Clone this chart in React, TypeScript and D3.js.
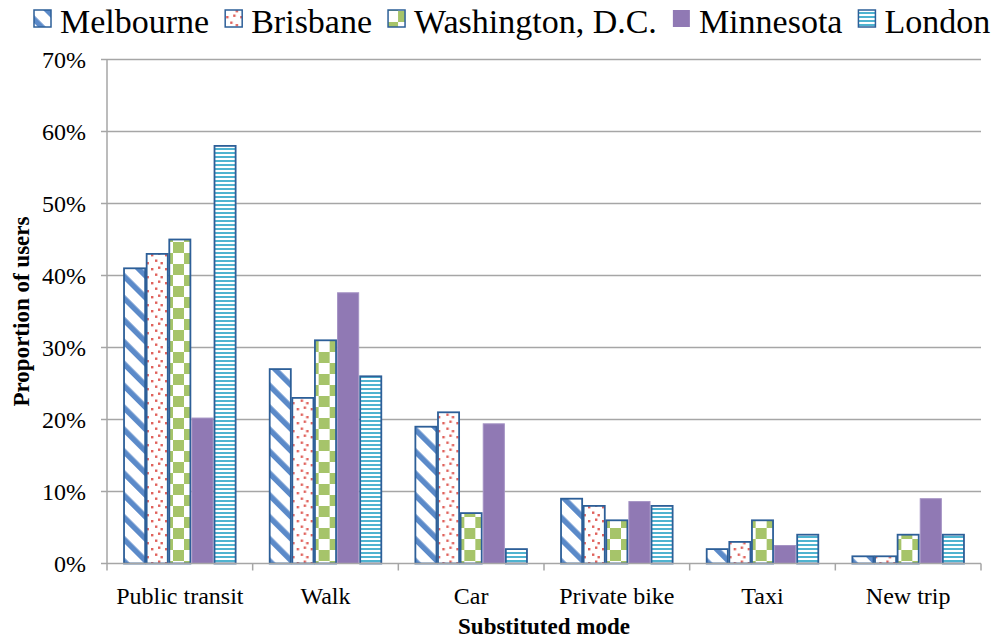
import React from "react";
import * as d3 from "d3";

const categories = ["Public transit", "Walk", "Car", "Private bike", "Taxi", "New trip"];
const seriesNames = ["Melbourne", "Brisbane", "Washington, D.C.", "Minnesota", "London"];

const melbourne = [41, 27, 19, 9, 2, 1];
const brisbane = [43, 23, 21, 8, 3, 1];
const washington = [45, 31, 7, 6, 6, 4];
const minnesota = [20.2, 37.6, 19.4, 8.6, 2.5, 9];
const london = [58, 26, 2, 8, 4, 4];

const seriesValues = [melbourne, brisbane, washington, minnesota, london];
const yTicks = [0, 10, 20, 30, 40, 50, 60, 70];

const patternIds = ["pMelb", "pBris", "pWash", "pMinn", "pLond"];
const borderColor = "#2d5f98";
const gridColor = "#a6a6a6";
const font = "'Liberation Serif', 'Times New Roman', serif";

const W = 1005;
const H = 640;
const plot = { left: 107, right: 981, top: 59.5, bottom: 563.5 };

function Patterns() {
  return (
    <defs>
      <pattern id="pMelb" patternUnits="userSpaceOnUse" width={15.5} height={15.5} patternTransform="rotate(-45)">
        <rect width={15.5} height={15.5} fill="#fff" />
        <rect x={0} width={5.5} height={15.5} fill="#5b8ac9" />
      </pattern>
      <pattern id="pBris" patternUnits="userSpaceOnUse" width={14} height={14}>
        <rect width={14} height={14} fill="#fff" />
        <rect x={2} y={2} width={2.4} height={2.4} fill="#e0625c" />
        <rect x={9} y={0.5} width={2.4} height={2.4} fill="#e0625c" />
        <rect x={6} y={7.5} width={2.4} height={2.4} fill="#e0625c" />
        <rect x={11.5} y={10} width={2.4} height={2.4} fill="#e0625c" />
      </pattern>
      <pattern id="pWash" patternUnits="userSpaceOnUse" width={22} height={22}>
        <rect width={22} height={22} fill="#fff" />
        <rect x={0} y={0} width={11} height={11} fill="#a6c46a" />
        <rect x={11} y={11} width={11} height={11} fill="#a6c46a" />
      </pattern>
      <pattern id="pMinn" patternUnits="userSpaceOnUse" width={4} height={4}>
        <rect width={4} height={4} fill="#9079b4" />
      </pattern>
      <pattern id="pLond" patternUnits="userSpaceOnUse" width={4} height={4}>
        <rect width={4} height={4} fill="#fff" />
        <rect y={0} width={4} height={2} fill="#4fb3d0" />
      </pattern>
    </defs>
  );
}

function Legend() {
  const ref = React.useRef<SVGGElement>(null);
  React.useEffect(() => {
    if (!ref.current) return;
    const g = d3.select(ref.current);
    let x = 33;
    g.selectAll<SVGGElement, unknown>("g.item").each(function () {
      const item = d3.select(this);
      item.attr("transform", `translate(${x},0)`);
      const t = item.select<SVGTextElement>("text").node();
      const w = t ? t.getComputedTextLength() : 100;
      x += 27 + w + 15;
    });
  }, []);
  return (
    <g ref={ref}>
      {seriesNames.map((name, i) => (
        <g className="item" key={name}>
          <rect
            x={1}
            y={10}
            width={17}
            height={17}
            fill={`url(#${patternIds[i]})`}
            stroke={i === 3 ? "none" : borderColor}
            strokeWidth={1.5}
          />
          <text x={27} y={33} fontSize={34} fontFamily={font} fill="#000">
            {name}
          </text>
        </g>
      ))}
    </g>
  );
}

export default function App() {
  const x0 = d3.scaleBand<string>().domain(categories).range([plot.left, plot.right]).paddingInner(0).paddingOuter(0);
  const x1 = d3
    .scaleBand<string>()
    .domain(seriesNames)
    .range([0, x0.bandwidth()])
    .paddingInner(0)
    .paddingOuter(0.72);
  const y = d3.scaleLinear().domain([0, 70]).range([plot.bottom, plot.top]);

  const boundaries = [...categories.map(c => x0(c) as number), plot.right];

  return (
    <svg width={W} height={H} style={{ position: "absolute", left: 0, top: 0, background: "#fff" }}>
      <Patterns />
      <rect width={W} height={H} fill="#fff" />
      {/* grid */}
      {yTicks.slice(1).map(t => (
        <line key={t} x1={plot.left} x2={plot.right} y1={y(t)} y2={y(t)} stroke={gridColor} strokeWidth={1.5} />
      ))}
      {/* y axis */}
      <line x1={plot.left} x2={plot.left} y1={plot.top} y2={plot.bottom} stroke={gridColor} strokeWidth={1.5} />
      {yTicks.map(t => (
        <g key={t}>
          <line x1={plot.left - 6} x2={plot.left} y1={y(t)} y2={y(t)} stroke={gridColor} strokeWidth={1.5} />
          <text x={86} y={y(t) + 8} textAnchor="end" fontSize={24} fontFamily={font} fill="#000">
            {t}%
          </text>
        </g>
      ))}
      {/* bars */}
      {categories.map((c, ci) => (
        <g key={c} transform={`translate(${x0(c)},0)`}>
          {seriesNames.map((s, si) => {
            const v = seriesValues[si][ci];
            const bx = x1(s) as number;
            return (
              <rect
                key={s}
                x={bx + 0.75}
                y={y(v)}
                width={x1.bandwidth() - 1.5}
                height={y(0) - y(v)}
                fill={`url(#${patternIds[si]})`}
                stroke={si === 3 ? "#a593c4" : borderColor}
                strokeWidth={si === 3 ? 1 : 1.8}
              />
            );
          })}
        </g>
      ))}
      {/* x axis */}
      <line x1={plot.left} x2={plot.right} y1={plot.bottom} y2={plot.bottom} stroke={gridColor} strokeWidth={1.5} />
      {boundaries.map((b, i) => (
        <line key={i} x1={b} x2={b} y1={plot.bottom} y2={plot.bottom + 7} stroke={gridColor} strokeWidth={1.5} />
      ))}
      {categories.map(c => (
        <text
          key={c}
          x={(x0(c) as number) + x0.bandwidth() / 2}
          y={604}
          textAnchor="middle"
          fontSize={24}
          fontFamily={font}
          fill="#000"
        >
          {c}
        </text>
      ))}
      <text x={544} y={634} textAnchor="middle" fontSize={23} fontWeight="bold" fontFamily={font} fill="#000">
        Substituted mode
      </text>
      <text
        transform={`translate(29,${(plot.top + plot.bottom) / 2}) rotate(-90)`}
        textAnchor="middle"
        fontSize={23}
        fontWeight="bold"
        fontFamily={font}
        fill="#000"
      >
        Proportion of users
      </text>
      <Legend />
    </svg>
  );
}
